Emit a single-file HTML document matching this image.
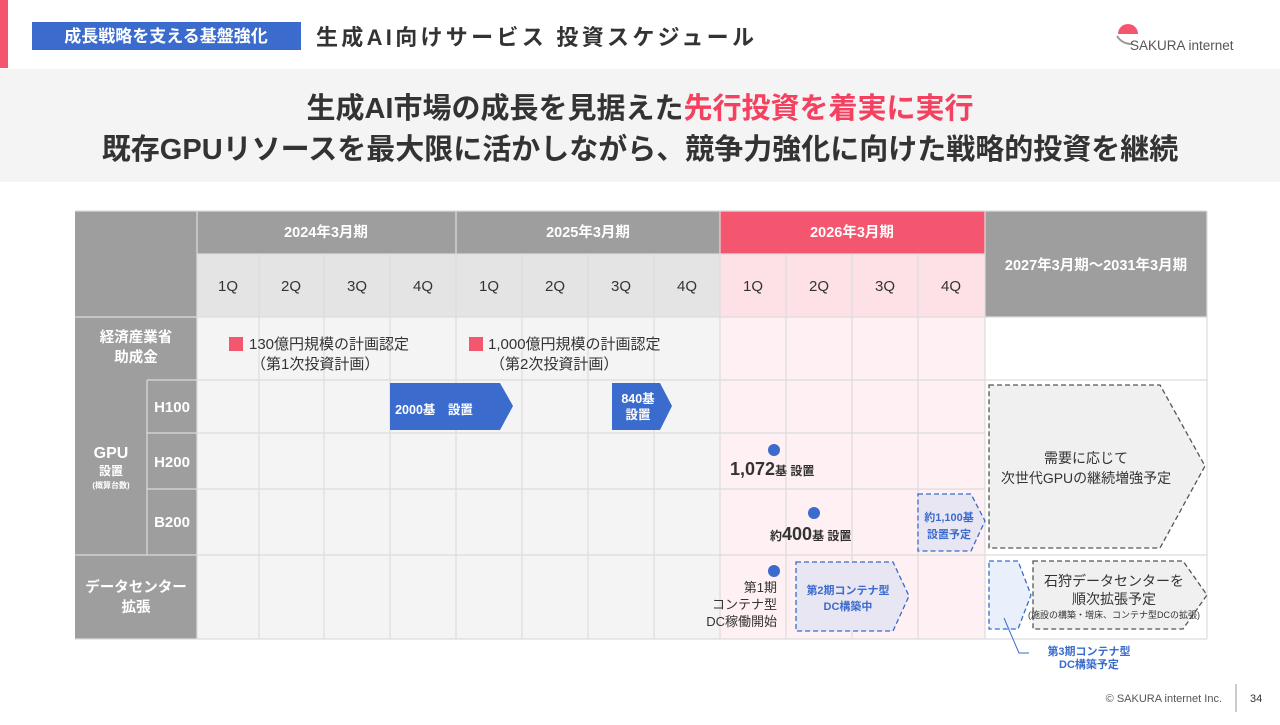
<!DOCTYPE html>
<html><head><meta charset="utf-8"><style>
body{margin:0;width:1280px;height:720px;overflow:hidden;background:#fff;font-family:"Liberation Sans","Noto Sans CJK JP",sans-serif}
svg text{font-family:"Liberation Sans","Noto Sans CJK JP",sans-serif}
</style></head><body>
<svg width="1280" height="720" viewBox="0 0 1280 720" xmlns="http://www.w3.org/2000/svg">
<rect x="0" y="0" width="8" height="68" fill="#f5566f"/>
<rect x="32" y="22" width="269" height="28" fill="#3b6bcc"/>
<text x="166" y="42" text-anchor="middle" font-size="17" font-weight="bold" fill="#fff">成長戦略を支える基盤強化</text>
<text x="316" y="45" font-size="22" font-weight="bold" fill="#333" letter-spacing="3.3">生成AI向けサービス 投資スケジュール</text>
<path d="M1118 34 A10 10 0 0 1 1138 34 Z" fill="#f5566f"/>
<path d="M1117 36 Q1122 44 1132 44" stroke="#999" stroke-width="2" fill="none"/>
<text x="1130" y="50" font-size="13.5" fill="#555">SAKURA internet</text>
<rect x="0" y="69" width="1280" height="113" fill="#f4f4f4"/>
<text x="640" y="118" text-anchor="middle" font-size="29" font-weight="bold" fill="#333">生成AI市場の成長を見据えた<tspan fill="#f5405f">先行投資を着実に実行</tspan></text>
<text x="640" y="159" text-anchor="middle" font-size="29" font-weight="bold" fill="#333">既存GPUリソースを最大限に活かしながら、競争力強化に向けた戦略的投資を継続</text>

<rect x="75" y="211" width="1132" height="428" fill="#f4f4f4"/>
<rect x="720" y="317" width="265" height="322" fill="#fff0f3"/>
<rect x="985" y="317" width="222" height="322" fill="#fff"/>
<rect x="75" y="211" width="122" height="428" fill="#9e9e9e"/>
<rect x="197" y="211" width="523" height="43" fill="#9e9e9e"/>
<rect x="720" y="211" width="265" height="43" fill="#f5566f"/>
<rect x="985" y="211" width="222" height="106" fill="#9e9e9e"/>
<rect x="197" y="254" width="523" height="63" fill="#e4e4e4"/>
<rect x="720" y="254" width="265" height="63" fill="#fde1e7"/>
<g stroke="#dcdcdc" stroke-width="1.2" fill="none">
<path d="M259 254V639M324 254V639M390 254V639M522 254V639M588 254V639M654 254V639M786 254V639M852 254V639M918 254V639"/>
<path d="M456 211V639M720 211V639M985 211V639"/>
<path d="M197 254H985M75 317H1207M147 433H985M147 489H985M75 555H1207M75 639H1207M147 380H1207M75 211H1207M1207 211V639"/>
<path d="M147 380V555M197 211V639"/>
</g>
<g fill="#fff" font-size="14.5" font-weight="bold" text-anchor="middle">
<text x="326" y="237">2024年3月期</text>
<text x="588" y="237">2025年3月期</text>
<text x="852" y="237">2026年3月期</text>
<text x="1096" y="270">2027年3月期～2031年3月期</text>
<text x="136" y="342">経済産業省</text>
<text x="136" y="362">助成金</text>
<text x="111" y="458" font-size="16">GPU</text>
<text x="111" y="475" font-size="12">設置</text>
<text x="111" y="488" font-size="8">(概算台数)</text>
<text x="172" y="412" font-size="15">H100</text>
<text x="172" y="467" font-size="15">H200</text>
<text x="172" y="527" font-size="15">B200</text>
<text x="136" y="592">データセンター</text>
<text x="136" y="612">拡張</text>
</g>
<g fill="#333" font-size="15" text-anchor="middle">
<text x="228" y="291">1Q</text><text x="291" y="291">2Q</text><text x="357" y="291">3Q</text><text x="423" y="291">4Q</text>
<text x="489" y="291">1Q</text><text x="555" y="291">2Q</text><text x="621" y="291">3Q</text><text x="687" y="291">4Q</text>
<text x="753" y="291">1Q</text><text x="819" y="291">2Q</text><text x="885" y="291">3Q</text><text x="951" y="291">4Q</text>
</g>
<rect x="229" y="337" width="14" height="14" fill="#f5566f"/>
<text x="249" y="349" font-size="15" fill="#333">130億円規模の計画認定</text>
<text x="251" y="369" font-size="15" fill="#333">（第1次投資計画）</text>
<rect x="469" y="337" width="14" height="14" fill="#f5566f"/>
<text x="488" y="349" font-size="15" fill="#333">1,000億円規模の計画認定</text>
<text x="490" y="369" font-size="15" fill="#333">（第2次投資計画）</text>

<path d="M390 383H500L513 406L500 430H390Z" fill="#3b6bcc"/>
<text x="434" y="414" text-anchor="middle" font-size="12.5" font-weight="bold" fill="#fff">2000基　設置</text>
<path d="M612 383H660L672 406L660 430H612Z" fill="#3b6bcc"/>
<text x="638" y="403" text-anchor="middle" font-size="12.5" font-weight="bold" fill="#fff">840基</text>
<text x="638" y="419" text-anchor="middle" font-size="12.5" font-weight="bold" fill="#fff">設置</text>

<circle cx="774" cy="450" r="6" fill="#3b6bcc"/>
<text x="730" y="475" font-size="18" font-weight="bold" fill="#333">1,072<tspan font-size="12">基 設置</tspan></text>
<circle cx="814" cy="513" r="6" fill="#3b6bcc"/>
<text x="770" y="540" font-size="12" font-weight="bold" fill="#333">約<tspan font-size="18">400</tspan>基 設置</text>
<circle cx="774" cy="571" r="6" fill="#3b6bcc"/>
<g font-size="13" fill="#333" text-anchor="end">
<text x="777" y="592">第1期</text><text x="777" y="609">コンテナ型</text><text x="777" y="626">DC稼働開始</text>
</g>
<g stroke-dasharray="5,3" stroke-width="1.3">
<path d="M796 562H893L909 596L893 631H796Z" fill="#e8e6f3" stroke="#3b6bcc"/>
<path d="M918 494H971L985 521L971 551H918Z" fill="#e8e6f3" stroke="#3b6bcc"/>
<path d="M989 385H1160L1205 466L1160 548H989Z" fill="#f0f0f0" stroke="#555"/>
<path d="M989 561H1018L1031 595L1018 629H989Z" fill="#eaf0fb" stroke="#3b6bcc"/>
<path d="M1033 561H1183L1207 595L1183 629H1033Z" fill="#f0f0f0" stroke="#555"/>
</g>
<g font-size="11" font-weight="bold" fill="#3b6bcc" text-anchor="middle">
<text x="848" y="594">第2期コンテナ型</text><text x="848" y="610">DC構築中</text>
<text x="949" y="521">約1,100基</text><text x="949" y="538">設置予定</text>
<text x="1089" y="655">第3期コンテナ型</text><text x="1089" y="668">DC構築予定</text>
</g>
<path d="M1004 618L1019 653H1029" stroke="#3b6bcc" fill="none"/>
<g fill="#333" text-anchor="middle">
<text x="1086" y="463" font-size="14">需要に応じて</text>
<text x="1086" y="483" font-size="14">次世代GPUの継続増強予定</text>
<text x="1114" y="586" font-size="14">石狩データセンターを</text>
<text x="1114" y="604" font-size="14">順次拡張予定</text>
<text x="1114" y="618" font-size="9">(施設の構築・増床、コンテナ型DCの拡張)</text>
</g>
<text x="1222" y="702" text-anchor="end" font-size="11" fill="#555">© SAKURA internet Inc.</text>
<line x1="1236" y1="684" x2="1236" y2="712" stroke="#999"/>
<text x="1250" y="702" font-size="11" fill="#333">34</text>
</svg>
</body></html>
